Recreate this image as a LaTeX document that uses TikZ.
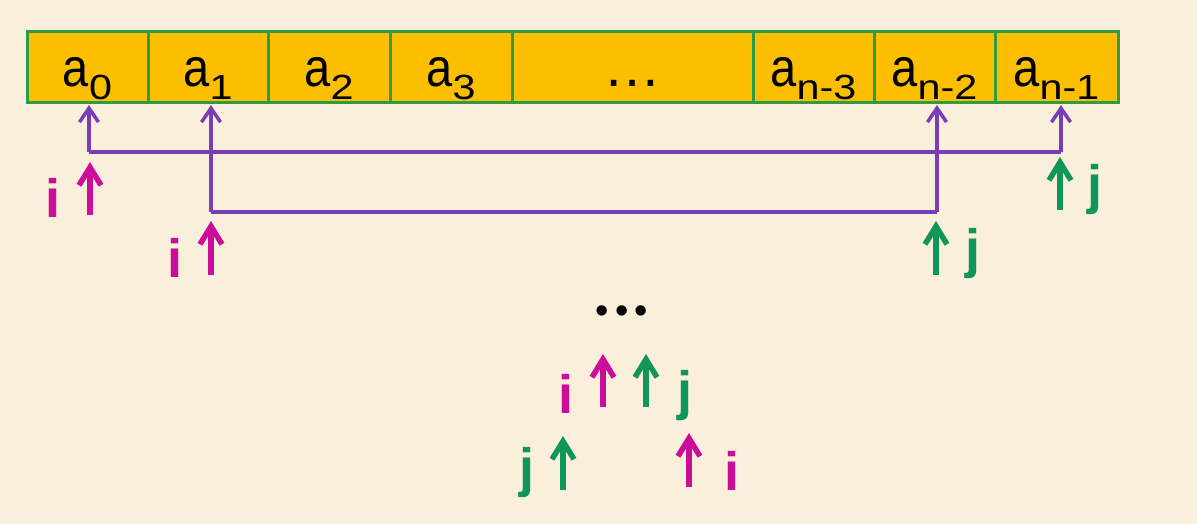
\documentclass[tikz,border=0pt]{standalone}
\usepackage{fontspec}
\setmainfont{Liberation Sans}
\usetikzlibrary{arrows.meta}
\definecolor{bgc}{HTML}{F9EFDB}
\definecolor{cellfill}{HTML}{FBBF00}
\definecolor{cellline}{HTML}{2E9B45}
\definecolor{purp}{HTML}{7A3DB8}
\definecolor{magc}{HTML}{CC0D99}
\definecolor{grnc}{HTML}{10965A}
\newcommand\elem[1]{\scalebox{0.87}[1]{\fontsize{54}{54}\selectfont a}\raisebox{-13.5pt}{\scalebox{1.18}[1]{\fontsize{35}{35}\selectfont #1}}}
\tikzset{
  cellbox/.style={draw=cellline, fill=cellfill, line width=3pt, minimum height=71pt,
    inner sep=0pt, outer sep=0pt, text height=38pt, text depth=0pt, anchor=north west},
  purpline/.style={draw=purp, line width=3.5pt, line join=miter,
    -{Straight Barb[length=14pt,width=19pt,line width=3.5pt]}},
  iarrow/.style={draw=magc, line width=5.5pt, -{Straight Barb[length=18pt,width=22pt,line width=5.5pt]}},
  jarrow/.style={draw=grnc, line width=5.5pt, -{Straight Barb[length=18pt,width=22pt,line width=5.5pt]}},
  ilabel/.style={text=magc, font=\fontsize{54}{54}\selectfont\bfseries, anchor=base, inner sep=0pt},
  jlabel/.style={text=grnc, font=\fontsize{54}{54}\selectfont\bfseries, anchor=base, inner sep=0pt}
}
\begin{document}
\begin{tikzpicture}[x=1pt,y=-1pt]
\fill[bgc] (0,0) rectangle (1197,524);
\useasboundingbox (0,0) rectangle (1197,524);
% array cells
\node[cellbox, minimum width=121pt] (c0) at (27,32) {\elem{0}};
\node[cellbox, minimum width=120pt] (c1) at (148,32) {\elem{1}};
\node[cellbox, minimum width=122pt] (c2) at (268,32) {\elem{2}};
\node[cellbox, minimum width=122pt] (c3) at (390,32) {\elem{3}};
\node[cellbox, minimum width=241pt] (c4) at (512,32) {\fontsize{58}{58}\selectfont …};
\node[cellbox, minimum width=121pt] (c5) at (753,32) {\elem{n-3}};
\node[cellbox, minimum width=121pt] (c6) at (874,32) {\elem{n-2}};
\node[cellbox, minimum width=123pt] (c7) at (995,32) {\elem{n-1}};
% purple swap connectors
\coordinate (h1a) at (89,152);
\coordinate (h1b) at (1061,152);
\coordinate (h2a) at (211,212);
\coordinate (h2b) at (937,212);
\draw[purpline] (h1a) -- ([yshift=-2pt]c0.south -| h1a);
\draw[purpline] (h1b) -- ([yshift=-2pt]c7.south -| h1b);
\draw[draw=purp, line width=3.5pt] (h1a) -- (h1b);
\draw[purpline] (h2a) -- ([yshift=-2pt]c1.south -| h2a);
\draw[purpline] (h2b) -- ([yshift=-2pt]c6.south -| h2b);
\draw[draw=purp, line width=3.5pt] (h2a) -- (h2b);
% first i/j pair
\node[ilabel] (i1) at (53,217) {i};
\coordinate (ai1s) at (90,215); \coordinate (ai1e) at (90,162);
\draw[iarrow] (ai1s) -- (ai1e);
\node[jlabel] (j1) at (1095,204) {j};
\coordinate (aj1s) at (1060,210); \coordinate (aj1e) at (1060,157);
\draw[jarrow] (aj1s) -- (aj1e);
% second i/j pair
\node[ilabel] (i2) at (175,277) {i};
\coordinate (ai2s) at (211,275); \coordinate (ai2e) at (211,221);
\draw[iarrow] (ai2s) -- (ai2e);
\node[jlabel] (j2) at (973,267) {j};
\coordinate (aj2s) at (936,275); \coordinate (aj2e) at (936,221);
\draw[jarrow] (aj2s) -- (aj2e);
% ellipsis
\node[anchor=base, inner sep=0pt, font=\fontsize{38}{38}\selectfont] (dots) at (622,323) {•\hspace{6.2pt}•\hspace{6.2pt}•};
% meeting
\node[ilabel] (i3) at (566,413) {i};
\coordinate (ai3s) at (603,407); \coordinate (ai3e) at (603,354);
\draw[iarrow] (ai3s) -- (ai3e);
\coordinate (aj3s) at (646,407); \coordinate (aj3e) at (646,354);
\draw[jarrow] (aj3s) -- (aj3e);
\node[jlabel] (j3) at (685,409) {j};
% crossed
\node[jlabel] (j4) at (527,486) {j};
\coordinate (aj4s) at (563,490); \coordinate (aj4e) at (563,436);
\draw[jarrow] (aj4s) -- (aj4e);
\coordinate (ai4s) at (689,487); \coordinate (ai4e) at (689,433);
\draw[iarrow] (ai4s) -- (ai4e);
\node[ilabel] (i4) at (732,490) {i};
\end{tikzpicture}
\end{document}
